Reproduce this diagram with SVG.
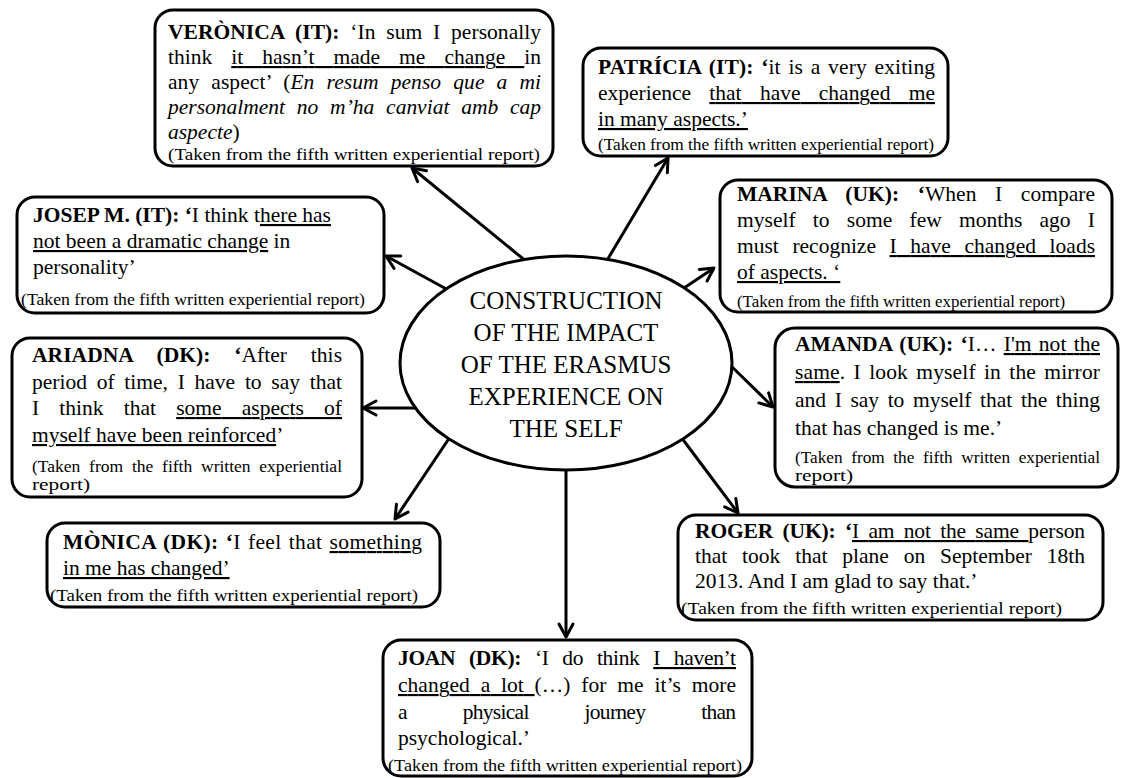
<svg xmlns="http://www.w3.org/2000/svg" width="1121" height="778" viewBox="0 0 1121 778">
  <style>
    .box { fill: #fff; stroke: #000; stroke-width: 3; }
    .hub { fill: #fff; stroke: #000; stroke-width: 3; }
    .t { font-family: "Liberation Serif", "Times New Roman", serif; font-size: 21.5px; fill: #000; }
    .s { font-family: "Liberation Serif", "Times New Roman", serif; font-size: 16px; fill: #000; }
    .b { font-weight: bold; }
    .i { font-style: italic; }
    .u { text-decoration: underline; }
    .hubtxt { font-family: "Liberation Serif", "Times New Roman", serif; font-size: 25px; fill: #000; text-anchor: middle; }
    .conn { stroke: #000; stroke-width: 3; fill: none; marker-end: url(#arr); }
  </style>
  <defs>
    <marker id="arr" markerUnits="userSpaceOnUse" markerWidth="22" markerHeight="22" viewBox="0 0 22 22" refX="18" refY="11" orient="auto">
      <path d="M5,4 L18,11 L5,18" fill="none" stroke="#000" stroke-width="3" stroke-linecap="round" stroke-linejoin="round"/>
    </marker>
  </defs>

  <rect width="1121" height="778" fill="#fff"/>

  <!-- connectors: hub to each quote box -->
  <g id="connectors">
    <line class="conn" x1="527" y1="262" x2="412" y2="168"/>
    <line class="conn" x1="606" y1="262" x2="668" y2="158"/>
    <line class="conn" x1="450" y1="291" x2="386" y2="256"/>
    <line class="conn" x1="681" y1="290" x2="714" y2="268"/>
    <line class="conn" x1="418" y1="408" x2="363" y2="408"/>
    <line class="conn" x1="728" y1="363" x2="773" y2="407"/>
    <line class="conn" x1="450" y1="437" x2="395" y2="519"/>
    <line class="conn" x1="566" y1="467" x2="566" y2="637"/>
    <line class="conn" x1="681" y1="437" x2="738" y2="513"/>
  </g>

  <!-- central concept -->
  <g id="hub">
    <ellipse class="hub" cx="566" cy="363" rx="166" ry="107"/>
    <text class="hubtxt" x="566" y="309">CONSTRUCTION</text>
    <text class="hubtxt" x="566" y="341">OF THE IMPACT</text>
    <text class="hubtxt" x="566" y="373">OF THE ERASMUS</text>
    <text class="hubtxt" x="566" y="405">EXPERIENCE ON</text>
    <text class="hubtxt" x="566" y="437">THE SELF</text>
  </g>

  <g id="veronica">
    <rect class="box" x="155" y="10" width="398" height="156" rx="18"/>
    <text class="t" x="168" y="39" word-spacing="5.4" textLength="373" lengthAdjust="spacing"><tspan class="b">VERÒNICA (IT):</tspan> ‘In sum I personally</text>
    <text class="t" x="168" y="64" word-spacing="13.7" textLength="373" lengthAdjust="spacing">think <tspan class="u">it hasn’t made me change </tspan>in</text>
    <text class="t" x="168" y="89" word-spacing="6.6" textLength="373" lengthAdjust="spacing">any aspect’ (<tspan class="i">En resum penso que a mi</tspan></text>
    <text class="t" x="168" y="114" word-spacing="6.4" textLength="373" lengthAdjust="spacing"><tspan class="i">personalment no m’ha canviat amb cap</tspan></text>
    <text class="t" x="168" y="139"><tspan class="i">aspecte</tspan>)</text>
    <text class="s" x="168" y="160" textLength="372" lengthAdjust="spacingAndGlyphs">(Taken from the fifth written experiential report)</text>
  </g>

  <g id="patricia">
    <rect class="box" x="583" y="48" width="365" height="108" rx="18"/>
    <text class="t" x="598" y="74" word-spacing="2.2" textLength="337" lengthAdjust="spacing"><tspan class="b">PATRÍCIA (IT): ‘</tspan>it is a very exiting</text>
    <text class="t" x="598" y="100" word-spacing="13" textLength="337" lengthAdjust="spacing">experience <tspan class="u">that have changed me</tspan></text>
    <text class="t" x="598" y="126"><tspan class="u">in many aspects.’</tspan></text>
    <text class="s" x="598" y="150" textLength="336" lengthAdjust="spacingAndGlyphs">(Taken from the fifth written experiential report)</text>
  </g>

  <g id="josep">
    <rect class="box" x="17" y="197" width="367" height="116" rx="18"/>
    <text class="t" x="33" y="222"><tspan class="b">JOSEP M. (IT): ‘</tspan>I think t<tspan class="u">here has</tspan></text>
    <text class="t" x="33" y="248"><tspan class="u">not been a dramatic change</tspan> in</text>
    <text class="t" x="33" y="274">personality’</text>
    <text class="s" x="21" y="305" textLength="344" lengthAdjust="spacingAndGlyphs">(Taken from the fifth written experiential report)</text>
  </g>

  <g id="marina">
    <rect class="box" x="720" y="180" width="392" height="132" rx="18"/>
    <text class="t" x="737" y="201" word-spacing="13.2" textLength="358" lengthAdjust="spacing"><tspan class="b">MARINA (UK): ‘</tspan>When I compare</text>
    <text class="t" x="737" y="227" word-spacing="11.8" textLength="358" lengthAdjust="spacing">myself to some few months ago I</text>
    <text class="t" x="737" y="253" word-spacing="8.2" textLength="358" lengthAdjust="spacing">must recognize <tspan class="u">I have changed loads</tspan></text>
    <text class="t" x="737" y="279"><tspan class="u">of aspects. ‘</tspan></text>
    <text class="s" x="737" y="307" textLength="328" lengthAdjust="spacingAndGlyphs">(Taken from the fifth written experiential report)</text>
  </g>

  <g id="ariadna">
    <rect class="box" x="12" y="338" width="350" height="159" rx="18"/>
    <text class="t" x="32" y="362" word-spacing="18.3" textLength="310" lengthAdjust="spacing"><tspan class="b">ARIADNA (DK): ‘</tspan>After this</text>
    <text class="t" x="32" y="389" word-spacing="4.4" textLength="310" lengthAdjust="spacing">period of time, I have to say that</text>
    <text class="t" x="32" y="415" word-spacing="14.8" textLength="310" lengthAdjust="spacing">I think that <tspan class="u">some aspects of</tspan></text>
    <text class="t" x="32" y="442"><tspan class="u">myself have been reinforced</tspan>’</text>
    <text class="s" x="32" y="472" word-spacing="4" textLength="310" lengthAdjust="spacingAndGlyphs">(Taken from the fifth written experiential</text>
    <text class="s" x="32" y="490" textLength="58" lengthAdjust="spacingAndGlyphs">report)</text>
  </g>

  <g id="amanda">
    <rect class="box" x="775" y="328" width="343" height="159" rx="20"/>
    <text class="t" x="795" y="351" word-spacing="1.8" textLength="305" lengthAdjust="spacing"><tspan class="b">AMANDA (UK): ‘</tspan>I… <tspan class="u">I'm not the</tspan></text>
    <text class="t" x="795" y="379" word-spacing="2.7" textLength="305" lengthAdjust="spacing"><tspan class="u">same</tspan>. I look myself in the mirror</text>
    <text class="t" x="795" y="407" word-spacing="3.2" textLength="305" lengthAdjust="spacing">and I say to myself that the thing</text>
    <text class="t" x="795" y="435">that has changed is me.’</text>
    <text class="s" x="795" y="463" word-spacing="4" textLength="305" lengthAdjust="spacingAndGlyphs">(Taken from the fifth written experiential</text>
    <text class="s" x="795" y="481" textLength="58" lengthAdjust="spacingAndGlyphs">report)</text>
  </g>

  <g id="monica">
    <rect class="box" x="47" y="523" width="393" height="84" rx="18"/>
    <text class="t" x="63" y="549" word-spacing="1.4" textLength="359" lengthAdjust="spacing"><tspan class="b">MÒNICA (DK): ‘</tspan>I feel that <tspan class="u">something</tspan></text>
    <text class="t" x="63" y="575"><tspan class="u">in me has changed’</tspan></text>
    <text class="s" x="50" y="601" textLength="368" lengthAdjust="spacingAndGlyphs">(Taken from the fifth written experiential report)</text>
  </g>

  <g id="roger">
    <rect class="box" x="678" y="515" width="425" height="105" rx="18"/>
    <text class="t" x="695" y="538" word-spacing="4.1" textLength="390" lengthAdjust="spacing"><tspan class="b">ROGER (UK): ‘</tspan><tspan class="u">I am not the same </tspan>person</text>
    <text class="t" x="695" y="563" word-spacing="9.5" textLength="390" lengthAdjust="spacing">that took that plane on September 18th</text>
    <text class="t" x="695" y="588">2013. And I am glad to say that.’</text>
    <text class="s" x="681" y="614" textLength="381" lengthAdjust="spacingAndGlyphs">(Taken from the fifth written experiential report)</text>
  </g>

  <g id="joan">
    <rect class="box" x="383" y="640" width="369" height="136" rx="18"/>
    <text class="t" x="398" y="665" word-spacing="8.7" textLength="338" lengthAdjust="spacing"><tspan class="b">JOAN (DK):</tspan> ‘I do think <tspan class="u">I haven’t</tspan></text>
    <text class="t" x="398" y="692" word-spacing="5.4" textLength="338" lengthAdjust="spacing"><tspan class="u">changed a lot </tspan>(…) for me it’s more</text>
    <text class="t" x="398" y="719" word-spacing="51.3" textLength="338" lengthAdjust="spacing">a physical journey than</text>
    <text class="t" x="398" y="745">psychological.’</text>
    <text class="s" x="388" y="771" textLength="354" lengthAdjust="spacingAndGlyphs">(Taken from the fifth written experiential report)</text>
  </g>
</svg>
